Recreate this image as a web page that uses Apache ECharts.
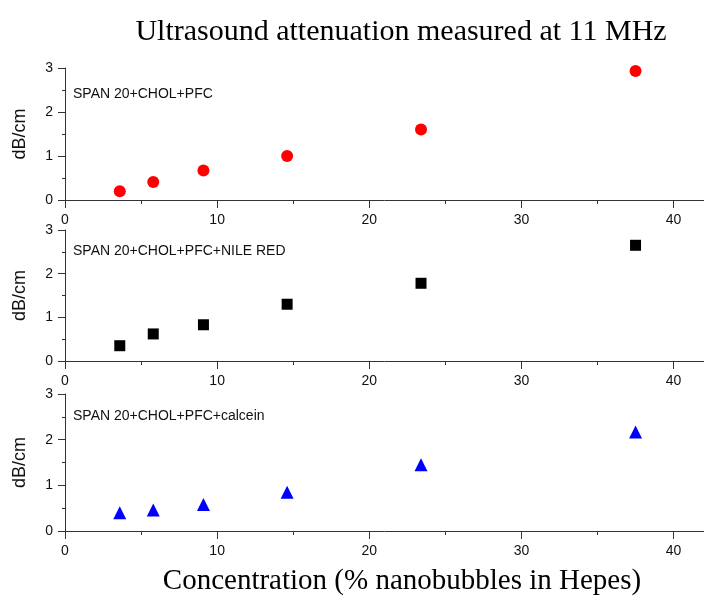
<!DOCTYPE html>
<html>
<head>
<meta charset="utf-8">
<script src="https://cdn.jsdelivr.net/npm/echarts@6/dist/echarts.min.js"></script>
<style>
html,body{margin:0;padding:0;background:#fff;}
#chart{width:704px;height:597px;}
</style>
</head>
<body>
<div id="chart"></div>
<script>
// ---- data ----
const concentration = [3.6, 5.8, 9.1, 14.6, 23.4, 37.5];
const pfcValues = [0.20, 0.41, 0.67, 1.00, 1.60, 2.93];
const nileRedValues = [0.35, 0.62, 0.83, 1.30, 1.78, 2.65];
const calceinValues = [0.40, 0.46, 0.58, 0.85, 1.45, 2.17];
const panelLabels = ['SPAN 20+CHOL+PFC', 'SPAN 20+CHOL+PFC+NILE RED', 'SPAN 20+CHOL+PFC+calcein'];
const titleText = 'Ultrasound attenuation measured at 11 MHz';
const xTitle = 'Concentration (% nanobubbles in Hepes)';
const yTitle = 'dB/cm';

function pairs(xs, ys){ return xs.map((x,i)=>[x, ys[i]]); }

const grids = [
  {left:65, right:0, top:68, height:132},
  {left:65, right:0, top:230, height:131},
  {left:65, right:0, top:394, height:137}
];
const axisColor = '#333';
const sans = 'Liberation Sans, Arial, sans-serif';
const serif = 'Liberation Serif, Times New Roman, serif';

const xAxes = grids.map((g,i)=>({
  type:'value', gridIndex:i, min:0, max:42, interval:10,
  axisLine:{show:true, lineStyle:{color:axisColor, width:1}},
  axisTick:{show:true, length:8, lineStyle:{color:axisColor}},
  minorTick:{show:true, splitNumber:2, length:4, lineStyle:{color:axisColor}},
  splitLine:{show:false},
  axisLabel:{fontFamily:sans, fontSize:14, color:'#111', margin:13, showMaxLabel:false}
}));
const yAxes = grids.map((g,i)=>({
  type:'value', gridIndex:i, min:0, max:3, interval:1,
  name:yTitle, nameLocation:'middle', nameGap:36, nameRotate:90,
  nameTextStyle:{fontFamily:sans, fontSize:18, color:'#111'},
  axisLine:{show:true, lineStyle:{color:axisColor, width:1}},
  axisTick:{show:true, length:7, lineStyle:{color:axisColor}},
  minorTick:{show:true, splitNumber:2, length:3, lineStyle:{color:axisColor}},
  splitLine:{show:false},
  axisLabel:{fontFamily:sans, fontSize:14, color:'#111', margin:12}
}));

const option = {
  backgroundColor:'#fff',
  animation:false,
  title:[
    {text:titleText, left:396, top:12, textAlign:'center',
     textStyle:{fontFamily:serif, fontSize:30, fontWeight:'normal', color:'#000'}},
    {text:xTitle, left:397, top:562, textAlign:'center',
     textStyle:{fontFamily:serif, fontSize:29, fontWeight:'normal', color:'#000'}}
  ],
  grid:grids,
  xAxis:xAxes,
  yAxis:yAxes,
  graphic:[
    {type:'text', left:73, top:87, style:{text:panelLabels[0], font:'14px '+sans, fill:'#111'}},
    {type:'text', left:73, top:244, style:{text:panelLabels[1], font:'14px '+sans, fill:'#111'}},
    {type:'text', left:73, top:409, style:{text:panelLabels[2], font:'14px '+sans, fill:'#111'}}
  ],
  series:[
    {type:'scatter', xAxisIndex:0, yAxisIndex:0, data:pairs(concentration, pfcValues),
     symbol:'circle', symbolSize:12, itemStyle:{color:'#ff0000', opacity:1}},
    {type:'scatter', xAxisIndex:1, yAxisIndex:1, data:pairs(concentration, nileRedValues),
     symbol:'rect', symbolSize:11, itemStyle:{color:'#000000', opacity:1}},
    {type:'scatter', xAxisIndex:2, yAxisIndex:2, data:pairs(concentration, calceinValues),
     symbol:'triangle', symbolSize:13, itemStyle:{color:'#0000ff', opacity:1}}
  ]
};
const chart = echarts.init(document.getElementById('chart'), null, {renderer:'canvas'});
chart.setOption(option);
</script>
</body>
</html>
